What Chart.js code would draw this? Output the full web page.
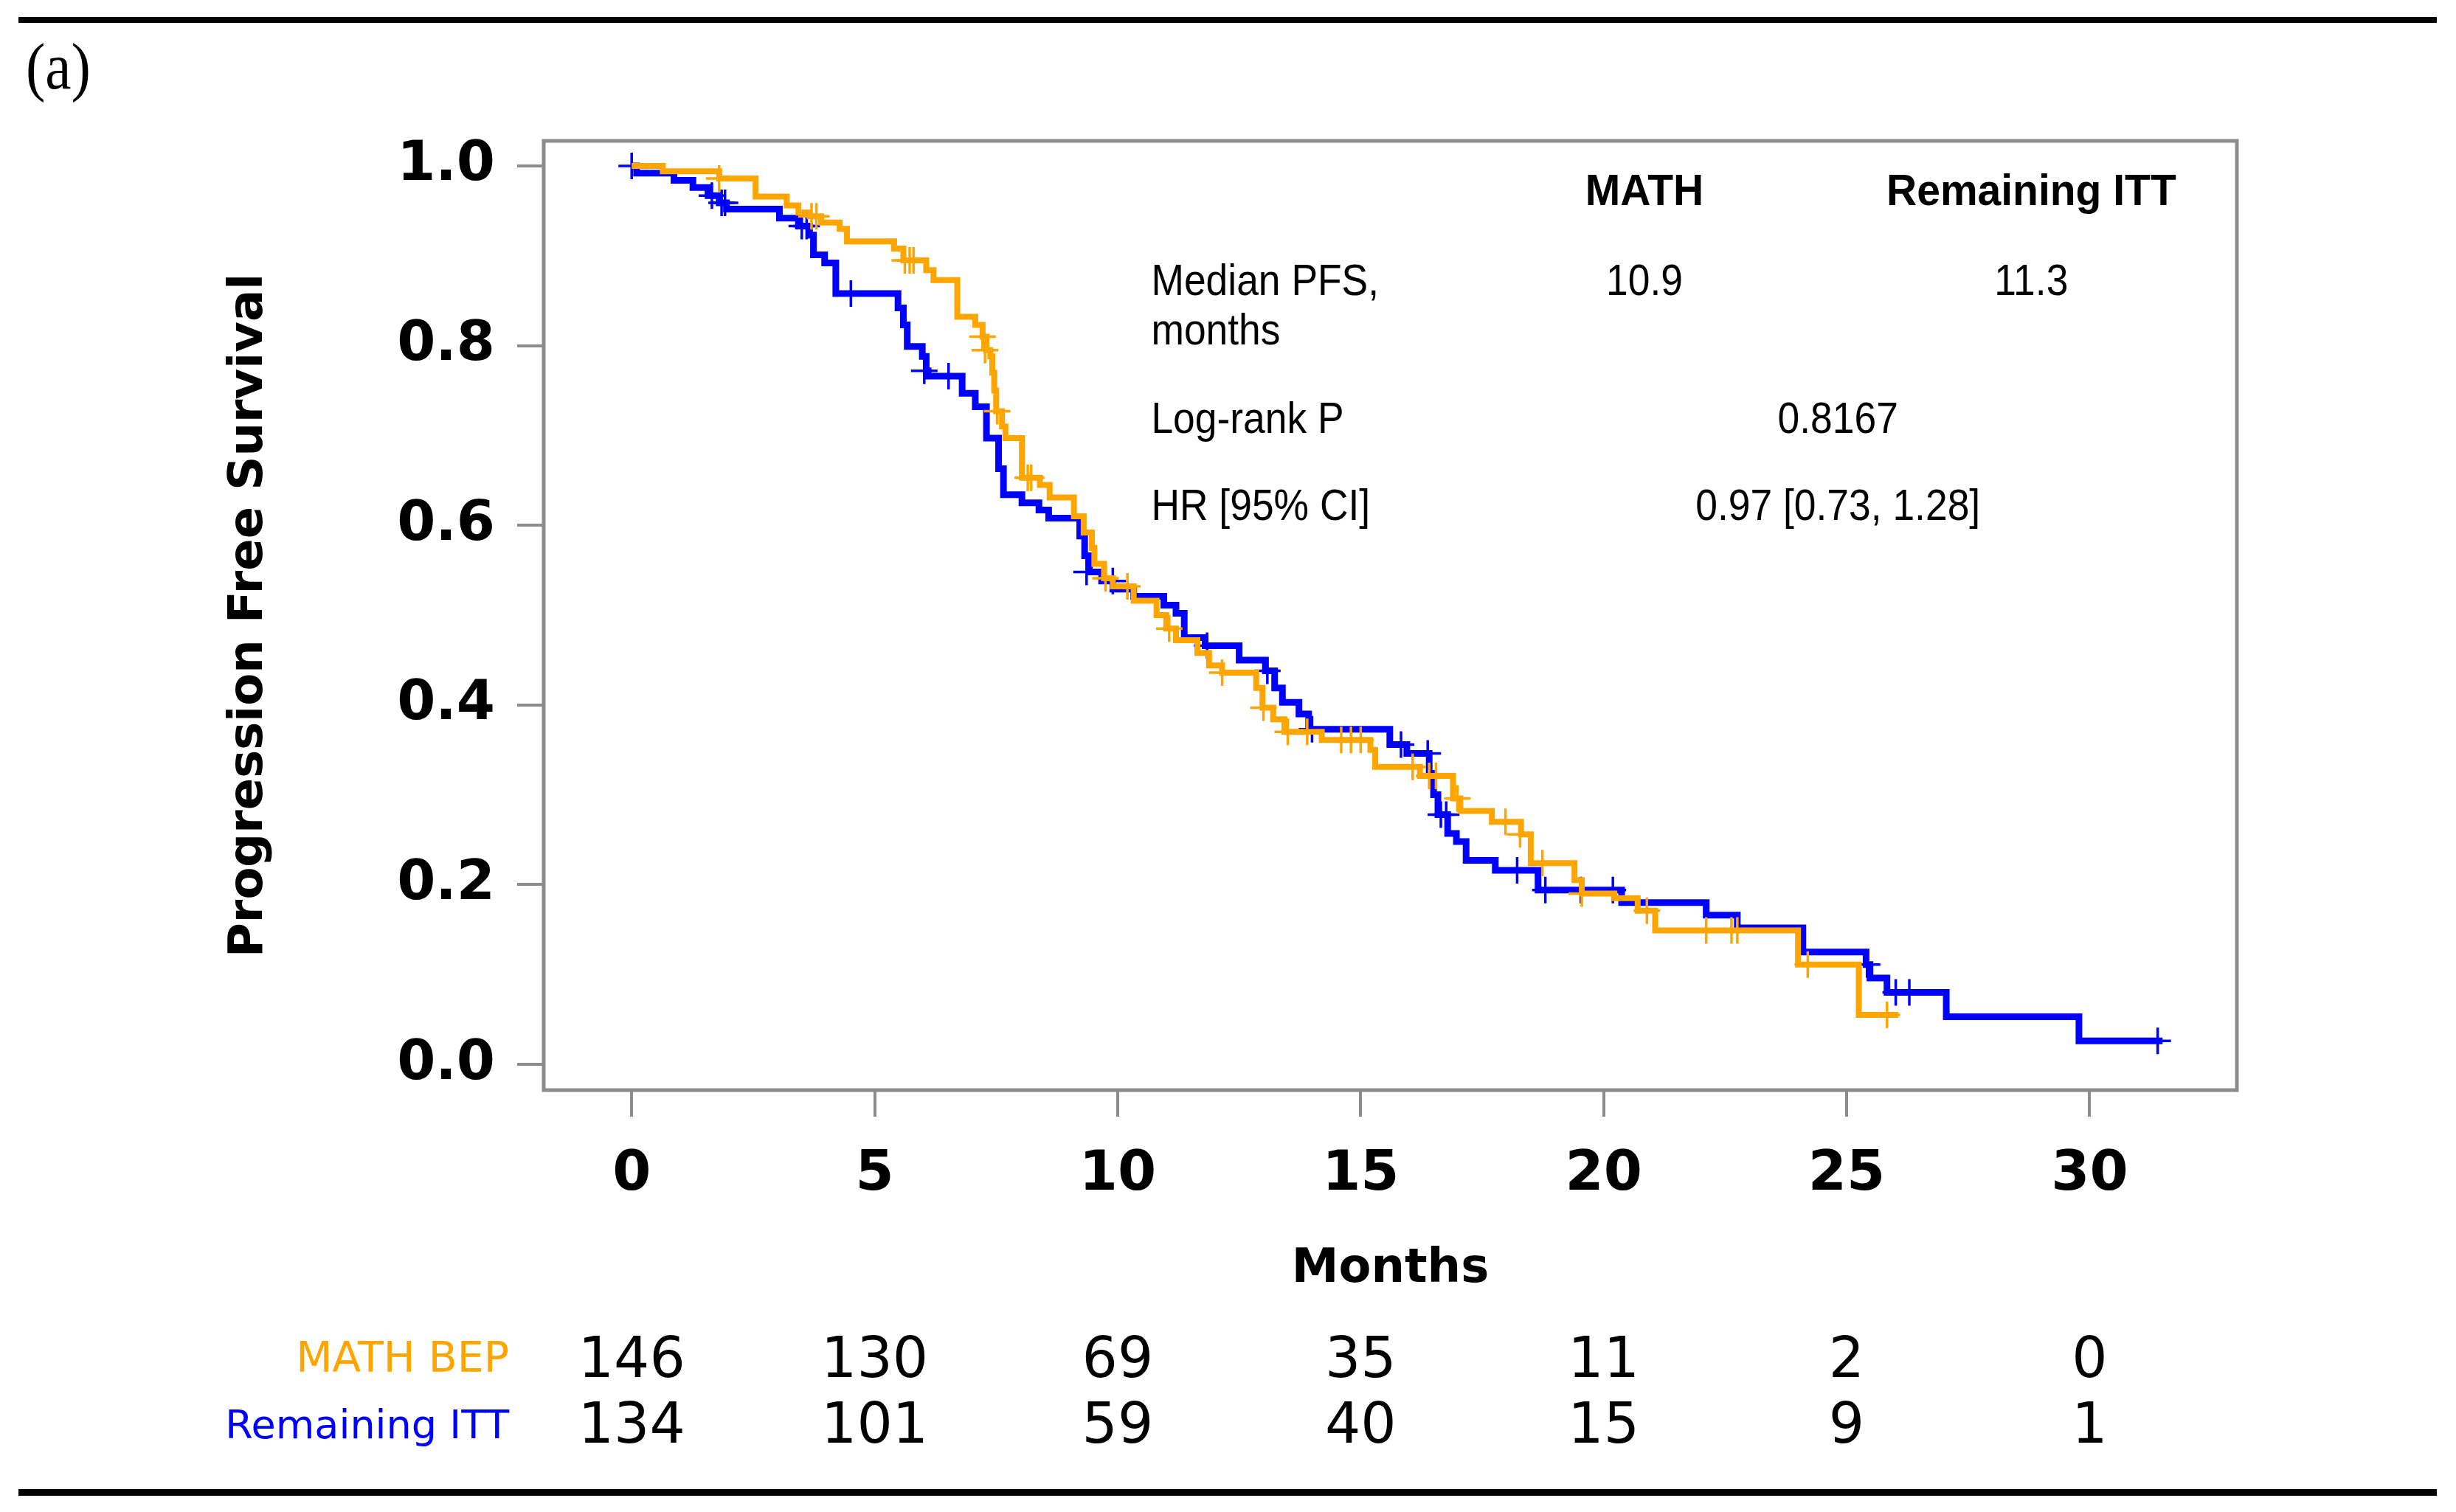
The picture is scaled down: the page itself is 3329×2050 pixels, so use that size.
<!DOCTYPE html>
<html>
<head>
<meta charset="utf-8">
<script src="https://cdn.jsdelivr.net/npm/chart.js@4.4.1/dist/chart.umd.min.js"></script>
<style>
html, body { margin: 0; padding: 0; background: #fff; }
</style>
</head>
<body>
<canvas id="canvas" width="3329" height="2050"></canvas>
<script>
// Kaplan-Meier steps: time (months) and survival after the drop
var mathTime = [0, 0.64, 1.80, 2.55, 3.19, 3.43, 3.66, 3.90, 4.28, 4.43,
    5.40, 5.59, 6.06, 6.21, 6.70, 7.07, 7.22, 7.30, 7.38, 7.42,
    7.46, 7.50, 7.62, 7.69, 8.03, 8.40, 8.60, 9.10, 9.30, 9.47,
    9.52, 9.72, 9.90, 10.33, 10.80, 11.00, 11.20, 11.64, 11.88, 12.15,
    12.85, 12.98, 13.20, 13.43, 14.20, 15.20, 15.30, 16.22, 16.90, 17.05,
    17.70, 18.30, 18.50, 19.40, 19.55, 20.22, 20.70, 21.06, 24.00, 25.25,
    26.06];
var mathSurv = [1.000, 0.994, 0.986, 0.966, 0.956, 0.948, 0.944, 0.937, 0.930, 0.916,
    0.908, 0.895, 0.884, 0.873, 0.832, 0.823, 0.810, 0.795, 0.788, 0.770,
    0.750, 0.727, 0.710, 0.697, 0.653, 0.645, 0.631, 0.610, 0.592, 0.575,
    0.557, 0.541, 0.532, 0.516, 0.500, 0.485, 0.472, 0.458, 0.444, 0.436,
    0.419, 0.397, 0.384, 0.370, 0.361, 0.350, 0.331, 0.321, 0.296, 0.282,
    0.270, 0.256, 0.224, 0.205, 0.190, 0.185, 0.171, 0.149, 0.111, 0.055,
    0.055];
var mathCensTime = [1.80, 3.70, 3.80, 5.62, 5.72, 5.80, 7.22, 7.27, 7.52, 8.15,
    8.22, 9.75, 10.20, 11.06, 12.15, 13.00, 13.50, 13.90, 14.60, 14.80,
    15.00, 16.07, 16.41, 16.55, 16.99, 17.98, 18.28, 18.74, 19.55, 20.89,
    22.11, 22.63, 22.75, 24.20, 25.83];
var mathCensSurv = [0.986, 0.944, 0.944, 0.895, 0.895, 0.895, 0.810, 0.795, 0.727, 0.653,
    0.653, 0.541, 0.532, 0.485, 0.436, 0.397, 0.370, 0.370, 0.361, 0.361,
    0.361, 0.331, 0.321, 0.321, 0.296, 0.270, 0.256, 0.224, 0.190, 0.171,
    0.149, 0.149, 0.149, 0.111, 0.055];

var ittTime = [0, 0.10, 0.87, 1.26, 1.57, 1.80, 1.95, 3.04, 3.43, 3.66,
    3.74, 3.97, 4.20, 5.48, 5.59, 5.67, 5.98, 6.06, 6.10, 6.80,
    7.07, 7.30, 7.55, 7.65, 8.03, 8.38, 8.58, 9.22, 9.32, 9.42,
    9.67, 9.90, 10.33, 10.95, 11.20, 11.37, 11.80, 12.50, 13.04, 13.23,
    13.39, 13.73, 13.93, 15.60, 15.95, 16.41, 16.50, 16.59, 16.79, 16.97,
    17.17, 17.77, 18.65, 20.37, 22.11, 22.75, 24.10, 25.40, 25.48, 25.83,
    27.05, 29.78, 31.50];
var ittSurv = [1.000, 0.992, 0.984, 0.976, 0.967, 0.959, 0.952, 0.942, 0.933, 0.923,
    0.901, 0.892, 0.858, 0.842, 0.823, 0.799, 0.788, 0.772, 0.766, 0.747,
    0.732, 0.697, 0.663, 0.634, 0.625, 0.617, 0.608, 0.588, 0.566, 0.548,
    0.538, 0.529, 0.521, 0.511, 0.502, 0.475, 0.466, 0.450, 0.438, 0.419,
    0.403, 0.390, 0.373, 0.356, 0.346, 0.324, 0.300, 0.278, 0.257, 0.248,
    0.227, 0.216, 0.194, 0.180, 0.166, 0.152, 0.125, 0.111, 0.096, 0.080,
    0.053, 0.026, 0.026];
var ittCensTime = [0, 1.65, 1.85, 1.92, 3.50, 3.60, 4.51, 6.02, 6.52, 9.36,
    9.90, 11.84, 13.08, 14.00, 15.83, 16.38, 16.65, 16.76, 18.22, 18.80,
    19.53, 20.19, 25.42, 26.01, 26.29, 31.40];
var ittCensSurv = [1.000, 0.967, 0.959, 0.959, 0.933, 0.933, 0.858, 0.772, 0.766, 0.548,
    0.538, 0.466, 0.438, 0.373, 0.356, 0.346, 0.278, 0.278, 0.216, 0.194,
    0.194, 0.194, 0.111, 0.080, 0.080, 0.026];

var xTicks = [0, 5, 10, 15, 20, 25, 30];
var yTicks = [0, 0.2, 0.4, 0.6, 0.8, 1.0];
var groupNames = ['MATH BEP', 'Remaining ITT'];
var mathAtRisk = [146, 130, 69, 35, 11, 2, 0];
var ittAtRisk = [134, 101, 59, 40, 15, 9, 1];

var statHeaders = ['MATH', 'Remaining ITT'];
var medianPfs = ['10.9', '11.3'];
var logRankP = '0.8167';
var hazardRatio = '0.97 [0.73, 1.28]';

var ORANGE = '#ffa500';
var BLUE = '#0000ff';
var GRAY = '#8c8c8c';

function toPoints(xs, ys) {
    var pts = [];
    for (var i = 0; i < xs.length; i++) pts.push({x: xs[i], y: ys[i]});
    return pts;
}

// the original uses a narrow sans, so squeeze Liberation Sans horizontally
function narrowText(ctx, text, x, y, align, bold) {
    ctx.save();
    ctx.translate(x, y);
    ctx.scale(bold ? 0.95 : 0.89, 1);
    ctx.font = (bold ? 'bold ' : '') + '60px "Liberation Sans"';
    ctx.textAlign = align;
    ctx.textBaseline = 'alphabetic';
    ctx.fillStyle = '#000';
    ctx.fillText(text, 0, 0);
    ctx.restore();
}

var pagePlugin = {
    id: 'page',
    beforeDraw: function(chart) {
        var ctx = chart.ctx;
        ctx.save();
        ctx.fillStyle = '#fff';
        ctx.fillRect(0, 0, chart.width, chart.height);
        ctx.fillStyle = '#000';
        ctx.fillRect(25, 23, 3278, 8);
        ctx.fillRect(25, 2019, 3278, 9);
        ctx.translate(35, 120);
        ctx.scale(0.9, 1);
        ctx.font = '88px "Liberation Serif"';
        ctx.textBaseline = 'alphabetic';
        ctx.textAlign = 'left';
        ctx.fillText('(a)', 0, 0);
        ctx.restore();
    },
    beforeDatasetsDraw: function(chart) {
        var a = chart.chartArea, ctx = chart.ctx;
        ctx.save();
        ctx.strokeStyle = GRAY;
        ctx.lineWidth = 5;
        ctx.strokeRect(a.left, a.top, a.right - a.left, a.bottom - a.top);
        ctx.restore();
    },
    afterDraw: function(chart) {
        var ctx = chart.ctx;
        var xs = chart.scales.x, ys = chart.scales.y;
        var px = function(v) { return xs.getPixelForValue(v); };
        var py = function(v) { return ys.getPixelForValue(v); };

        // stats table inside the plot
        narrowText(ctx, statHeaders[0], px(20.84), py(0.9565), 'center', true);
        narrowText(ctx, statHeaders[1], px(28.80), py(0.9565), 'center', true);
        narrowText(ctx, 'Median PFS,', px(10.69), py(0.856), 'left', false);
        narrowText(ctx, 'months', px(10.69), py(0.801), 'left', false);
        narrowText(ctx, medianPfs[0], px(20.84), py(0.856), 'center', false);
        narrowText(ctx, medianPfs[1], px(28.80), py(0.856), 'center', false);
        narrowText(ctx, 'Log-rank P', px(10.69), py(0.703), 'left', false);
        narrowText(ctx, logRankP, px(24.82), py(0.703), 'center', false);
        narrowText(ctx, 'HR [95% CI]', px(10.69), py(0.606), 'left', false);
        narrowText(ctx, hazardRatio, px(24.82), py(0.606), 'center', false);

        // numbers at risk
        ctx.save();
        ctx.textBaseline = 'alphabetic';
        ctx.textAlign = 'right';
        var labX = px(0) - 166;
        ctx.font = '57px "DejaVu Sans"';
        ctx.fillStyle = ORANGE;
        ctx.fillText(groupNames[0], labX, 1860);
        ctx.font = '54px "DejaVu Sans"';
        ctx.fillStyle = BLUE;
        ctx.fillText(groupNames[1], labX, 1950);
        ctx.font = '76px "DejaVu Sans"';
        ctx.textAlign = 'center';
        ctx.fillStyle = '#000';
        for (var i = 0; i < xTicks.length; i++) {
            ctx.fillText(String(mathAtRisk[i]), px(xTicks[i]), 1867);
            ctx.fillText(String(ittAtRisk[i]), px(xTicks[i]), 1956);
        }
        ctx.restore();
    }
};

Chart.defaults.font.family = '"DejaVu Sans"';
Chart.defaults.color = '#000';

var ctx = document.getElementById('canvas').getContext('2d');
var chart = new Chart(ctx, {
    type: 'line',
    data: {
        datasets: [
            {
                label: 'MATH BEP censored',
                data: toPoints(mathCensTime, mathCensSurv),
                showLine: false,
                pointStyle: 'cross',
                pointRadius: 18,
                pointBorderWidth: 3.5,
                pointBorderColor: ORANGE,
                pointBackgroundColor: ORANGE
            },
            {
                label: 'MATH BEP',
                data: toPoints(mathTime, mathSurv),
                stepped: 'before',
                borderColor: ORANGE,
                borderWidth: 8,
                pointRadius: 0,
                fill: false
            },
            {
                label: 'Remaining ITT censored',
                data: toPoints(ittCensTime, ittCensSurv),
                showLine: false,
                pointStyle: 'cross',
                pointRadius: 18,
                pointBorderWidth: 3.5,
                pointBorderColor: BLUE,
                pointBackgroundColor: BLUE
            },
            {
                label: 'Remaining ITT',
                data: toPoints(ittTime, ittSurv),
                stepped: 'before',
                borderColor: BLUE,
                borderWidth: 9,
                pointRadius: 0,
                fill: false
            }
        ]
    },
    options: {
        responsive: false,
        animation: false,
        devicePixelRatio: 1,
        layout: { padding: { left: 300, right: 297, top: 191, bottom: 290 } },
        plugins: { legend: { display: false }, tooltip: { enabled: false } },
        scales: {
            x: {
                type: 'linear',
                min: -1.81,
                max: 33.03,
                afterBuildTicks: function(scale) {
                    scale.ticks = xTicks.map(function(v) { return {value: v}; });
                },
                afterFit: function(scale) { scale.height = 282; },
                ticks: {
                    font: { size: 75, weight: 'bold' },
                    color: '#000',
                    padding: 35,
                    maxRotation: 0,
                    autoSkip: false,
                    callback: function(v) { return String(v); }
                },
                grid: { drawOnChartArea: false, drawTicks: true, tickLength: 36, color: GRAY, lineWidth: 4 },
                border: { display: false },
                title: { display: true, text: 'Months', font: { size: 64, weight: 'bold' }, color: '#000', padding: 0 }
            },
            y: {
                type: 'linear',
                min: -0.0287,
                max: 1.0279,
                afterBuildTicks: function(scale) {
                    scale.ticks = yTicks.map(function(v) { return {value: v}; });
                },
                afterFit: function(scale) { scale.width = 437; },
                ticks: {
                    font: { size: 75, weight: 'bold' },
                    color: '#000',
                    padding: 30,
                    autoSkip: false,
                    callback: function(v) { return v.toFixed(1); }
                },
                grid: { drawOnChartArea: false, drawTicks: true, tickLength: 36, color: GRAY, lineWidth: 4 },
                border: { display: false },
                title: { display: true, text: 'Progression Free Survival', font: { size: 64, weight: 'bold' }, color: '#000', padding: 0 }
            }
        }
    },
    plugins: [pagePlugin]
});
</script>
</body>
</html>
